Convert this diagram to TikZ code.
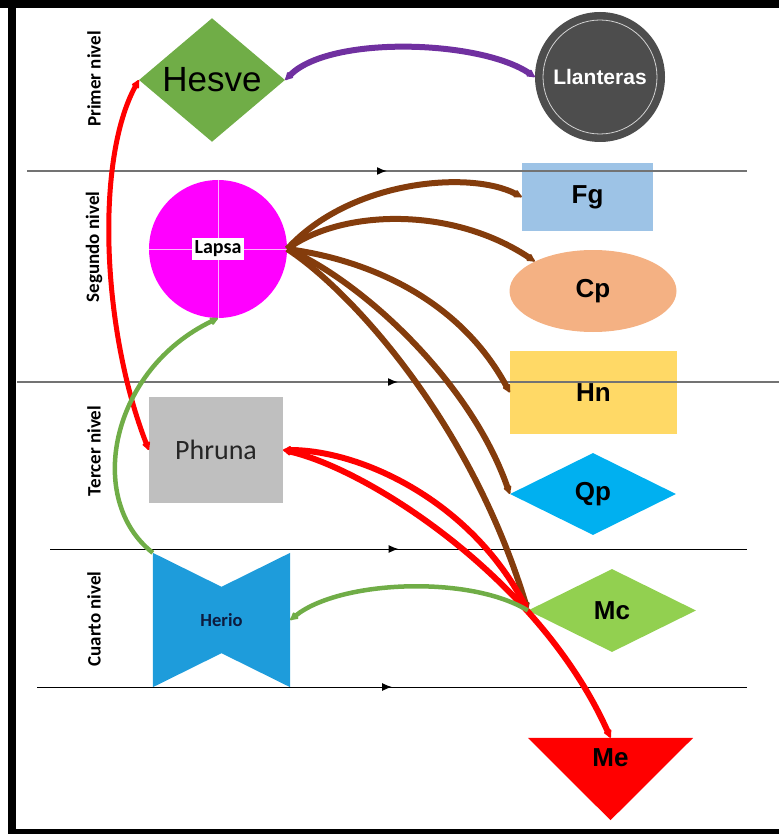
\documentclass[tikz,border=0pt]{standalone}
\usepackage{fontspec}
\setmainfont{Liberation Sans}
\newfontfamily\calibri{Carlito}
\usetikzlibrary{calc, shapes, arrows.meta, decorations.markings}

\definecolor{hesvegreen}{HTML}{70AD47}
\definecolor{llangray}{HTML}{4D4D4D}
\definecolor{lapsapink}{HTML}{FF00FF}
\definecolor{fgblue}{HTML}{9DC3E6}
\definecolor{cporange}{HTML}{F4B183}
\definecolor{hnyellow}{HTML}{FFD966}
\definecolor{qpblue}{HTML}{00B0F0}
\definecolor{mcgreen}{HTML}{92D050}
\definecolor{phgray}{HTML}{BFBFBF}
\definecolor{herioblue}{HTML}{1E9CDB}
\definecolor{heriotext}{HTML}{0D1B3E}
\definecolor{brownc}{HTML}{843C0C}
\definecolor{purplec}{HTML}{7030A0}
\definecolor{greenc}{HTML}{70AD47}

\begin{document}
\begin{tikzpicture}[x=1pt, y=-1pt,
    lvl/.style={rotate=90, font=\calibri\bfseries\fontsize{19}{19}\selectfont},
    sepline/.style={line width=#1, postaction={decorate},
        decoration={markings, mark=at position 0.5 with {\arrow{Latex[length=10pt,width=8pt,color=black]}}}},
    lbl/.style={font=\bfseries\fontsize{26}{26}\selectfont},
    shp/.style={draw=none, inner sep=0pt},
    conn/.style={line width=#1, {Latex[length=10pt,width=10pt,round]}-{Latex[length=10pt,width=10pt,round]}},
    onetip/.style={line width=#1, -{Latex[length=10pt,width=10pt,round]}}]
            \useasboundingbox (0,0) rectangle (779,834);
            \fill (0,0) rectangle (779,8);
            \fill (8,0) rectangle (16,834);
            \fill (8,829) rectangle (779,834);

            \node[lvl] (primer) at (94,79) {Primer nivel};
            \node[lvl] (segundo) at (94,247) {Segundo nivel};
            \node[lvl] (tercer) at (94,451) {Tercer nivel};
            \node[lvl] (cuarto) at (94,619) {Cuarto nivel};

            \node[shp, diamond, fill=hesvegreen, minimum width=146pt, minimum height=120pt,
                font=\fontsize{35}{35}\selectfont] (hesve) at (212,80) {Hesve};
            \node[shp, circle, fill=llangray, minimum size=130pt, text=white,
                font=\bfseries\fontsize{21}{21}\selectfont] (llanteras) at (600,77) {Llanteras};
            \draw[gray!35, line width=0.8pt] (llanteras.center) circle[radius=57pt];

            \node[shp, circle, fill=lapsapink, minimum size=138pt] (lapsa) at (218,249) {};
            \draw[white!70!lapsapink, line width=0.8pt] (lapsa.north) -- (lapsa.south) (lapsa.west) -- (lapsa.east);
            \node[fill=white, inner sep=2.5pt, font=\calibri\bfseries\fontsize{20}{20}\selectfont] (lapsatxt) at (lapsa) {Lapsa};

            \node[shp, lbl, rectangle, fill=fgblue, minimum width=131pt, minimum height=68pt] (fg) at (587.5,197) {Fg};
            \node[shp, lbl, ellipse, fill=cporange, minimum width=167pt, minimum height=82pt] (cp) at (593,291) {Cp};
            \node[shp, lbl, rectangle, fill=hnyellow, minimum width=167pt, minimum height=83pt] (hn) at (593.5,392.5) {Hn};
            \node[shp, lbl, diamond, fill=qpblue, minimum width=166pt, minimum height=82pt] (qp) at (593,494) {Qp};
            \node[shp, lbl, diamond, fill=mcgreen, minimum width=168pt, minimum height=83pt] (mc) at (612,610.5) {Mc};

            \node[shp, minimum width=165pt, minimum height=82pt] (me) at (610.5,779) {};
            \fill[red] (me.north west) -- (me.north east) -- (me.south) -- cycle;
            \node[lbl] (metxt) at ([yshift=-20pt]me.north) {Me};
            \coordinate (metop) at (me.north);

            \node[shp, rectangle, fill=phgray, minimum width=134pt, minimum height=106pt, text=black!85,
                font=\calibri\fontsize{28}{28}\selectfont] (phruna) at (216,450) {Phruna};

            \node[shp, minimum width=137pt, minimum height=134pt] (herio) at (221.5,620) {};
            \fill[herioblue] (herio.north west) -- ($(herio.north)+(0,34)$) -- (herio.north east)
                -- (herio.south east) -- ($(herio.south)+(0,-34)$) -- (herio.south west) -- cycle;
            \node[text=heriotext, font=\calibri\bfseries\fontsize{18.5}{18.5}\selectfont] (heriotxt) at (herio) {Herio};

            \draw[sepline=1.5pt, black!55] (27,171) -- (747,171);
            \draw[sepline=1.5pt, black!55] (17,382) -- (779,382);
            \draw[sepline=1pt] (50,549) -- (747,549);
            \draw[sepline=1pt] (37,687) -- (747,687);

            \draw[conn=6pt, purplec] (llanteras.west) .. controls (480,40) and (330,35) .. (hesve.east);
            \draw[onetip=6pt, brownc] (lapsa.east) .. controls (350,180) and (470,170) .. (fg.west);
            \draw[onetip=6pt, brownc] (lapsa.east) .. controls (340,210) and (450,205) .. (cp.153);
            \draw[onetip=6pt, brownc] (lapsa.east) .. controls (370,260) and (460,300) .. (hn.west);
            \draw[onetip=6pt, brownc] (lapsa.east) .. controls (360,280) and (470,380) .. (qp.west);
            \draw[onetip=6pt, brownc] (lapsa.east) .. controls (350,290) and (470,420) .. (mc.west);
            \draw[conn=5pt, red] (hesve.west) .. controls (95,160) and (102,330) .. (phruna.west);
            \draw[conn=6pt, red] (mc.west) .. controls (470,500) and (360,450) .. (phruna.east);
            \draw[conn=6pt, red] (phruna.east) .. controls (370,470) and (540,580) .. (metop);
            \draw[onetip=4.5pt, greenc] (herio.north west) .. controls (85,500) and (110,370) .. (lapsa.south);
            \draw[onetip=4.5pt, greenc] (mc.west) .. controls (470,575) and (340,580) .. (herio.east);
        \end{tikzpicture}
\end{document}
